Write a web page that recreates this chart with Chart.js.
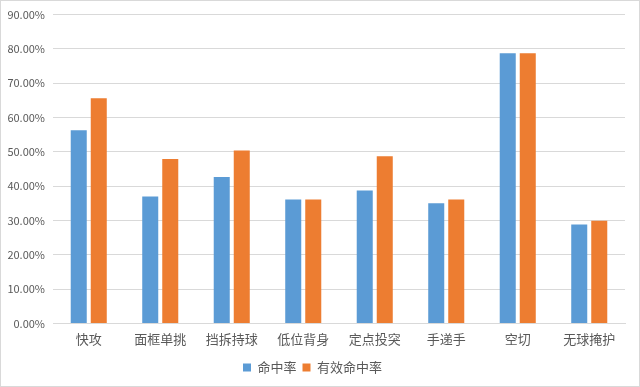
<!DOCTYPE html>
<html><head><meta charset="utf-8">
<script src="https://cdn.jsdelivr.net/npm/chart.js@4"></script>
<style>html,body{margin:0;padding:0;background:#fff;}#wrap{width:640px;height:387px;}</style>
</head><body><div id="wrap"><canvas id="c" width="640" height="387"></canvas></div>
<script>
const categories = ['快攻','面框单挑','挡拆持球','低位背身','定点投突','手递手','空切','无球掩护'];
const hitRate = [56.3, 37.0, 42.7, 36.1, 38.7, 35.0, 78.7, 28.8];
const effHitRate = [65.6, 47.9, 50.4, 36.1, 48.7, 36.1, 78.7, 29.9];
const seriesNames = ['命中率','有效命中率'];
const yMax = 90, yStep = 10;

const font = '"Microsoft YaHei","Noto Sans CJK SC",sans-serif';
const borderPlugin = {id:'frame', afterDraw(chart){const c=chart.ctx;c.save();c.strokeStyle='#D9D9D9';c.lineWidth=1;c.strokeRect(0.5,0.5,chart.width-1,chart.height-1);c.restore();}};
new Chart(document.getElementById('c'), {
  type:'bar',
  data:{labels:categories, datasets:[
    {label:seriesNames[0], data:hitRate, backgroundColor:'#5B9BD5', barPercentage:0.8, categoryPercentage:0.56},
    {label:seriesNames[1], data:effHitRate, backgroundColor:'#ED7D31', barPercentage:0.8, categoryPercentage:0.56}
  ]},
  options:{
    responsive:false, animation:false, devicePixelRatio:1,
    layout:{padding:{top:11,right:15,bottom:3,left:0}},
    plugins:{
      legend:{position:'bottom', labels:{boxWidth:8, boxHeight:8, padding:6, color:'#595959', font:{family:font,size:13}}},
      tooltip:{enabled:false}
    },
    scales:{
      x:{grid:{display:false, drawTicks:false}, border:{color:'#D9D9D9'}, ticks:{color:'#595959', padding:8, font:{family:font,size:13}}},
      y:{min:0, max:yMax, afterFit(s){s.width=53;},
        grid:{color:'#D9D9D9', drawTicks:false}, border:{display:false},
        ticks:{stepSize:yStep, padding:8, color:'#595959', font:{family:font,size:11}, callback:v=>v.toFixed(2)+'%'}}
    }
  },
  plugins:[borderPlugin]
});
</script></body></html>
